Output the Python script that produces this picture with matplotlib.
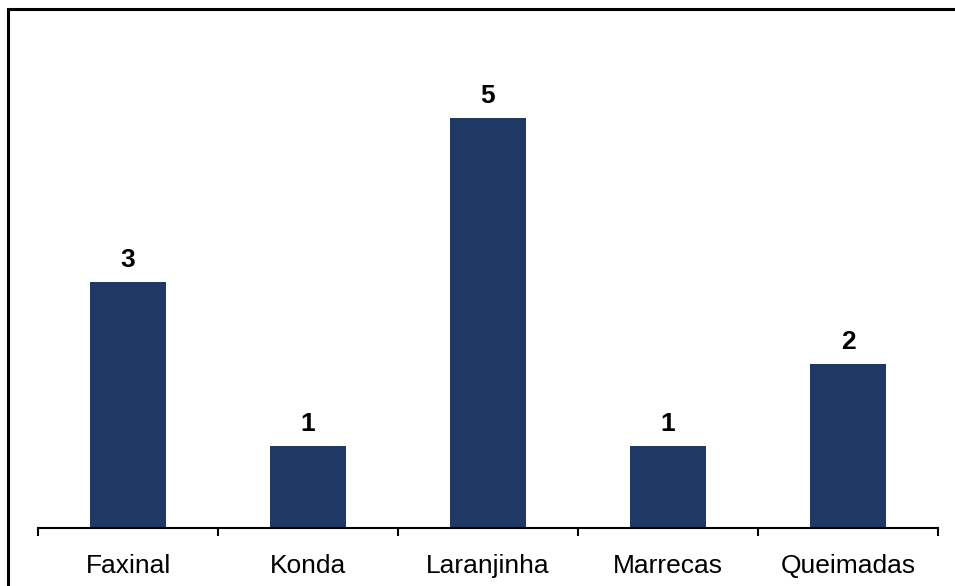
import matplotlib.pyplot as plt
from matplotlib.patches import Rectangle
import numpy as np

plt.rcParams['font.family'] = ['Liberation Sans', 'DejaVu Sans']

# Counts per location
locations = ['Faxinal', 'Konda', 'Laranjinha', 'Marrecas', 'Queimadas']
counts = [3, 1, 5, 1, 2]

fig = plt.figure(figsize=(9.55, 5.86), dpi=100)
ax = fig.add_axes([38 / 955, 58 / 586, 900 / 955, 492 / 586])

x = np.arange(len(locations))
bars = ax.bar(x, counts, width=0.42, color='#203864')

for xi, v in zip(x, counts):
    ax.annotate(str(v), (xi, v), xytext=(0, 7.5), textcoords='offset points',
                ha='center', va='bottom', fontsize=19, fontweight='bold')

ax.set_xlim(-0.5, len(locations) - 0.5)
ax.set_ylim(0, 6)

# category boundary ticks
ax.set_xticks(np.arange(len(locations) + 1) - 0.5)
ax.set_xticklabels([])
ax.set_xticks(x, minor=True)
ax.set_xticklabels(locations, minor=True, fontsize=19)
ax.tick_params(axis='x', which='major', direction='out', length=6, width=1.5)
ax.tick_params(axis='x', which='minor', length=0, pad=19)
ax.set_yticks([])

for s in ['top', 'right', 'left']:
    ax.spines[s].set_visible(False)
ax.spines['bottom'].set_linewidth(1.5)

# outer frame (top and left edges visible)
frame = Rectangle((8 / 955, -0.1), 1.2, (586 - 9) / 586 + 0.1,
                  transform=fig.transFigure, fill=False, ec='black', lw=2.2,
                  clip_on=False)
fig.patches.append(frame)

fig.savefig('out.png', dpi=100)
